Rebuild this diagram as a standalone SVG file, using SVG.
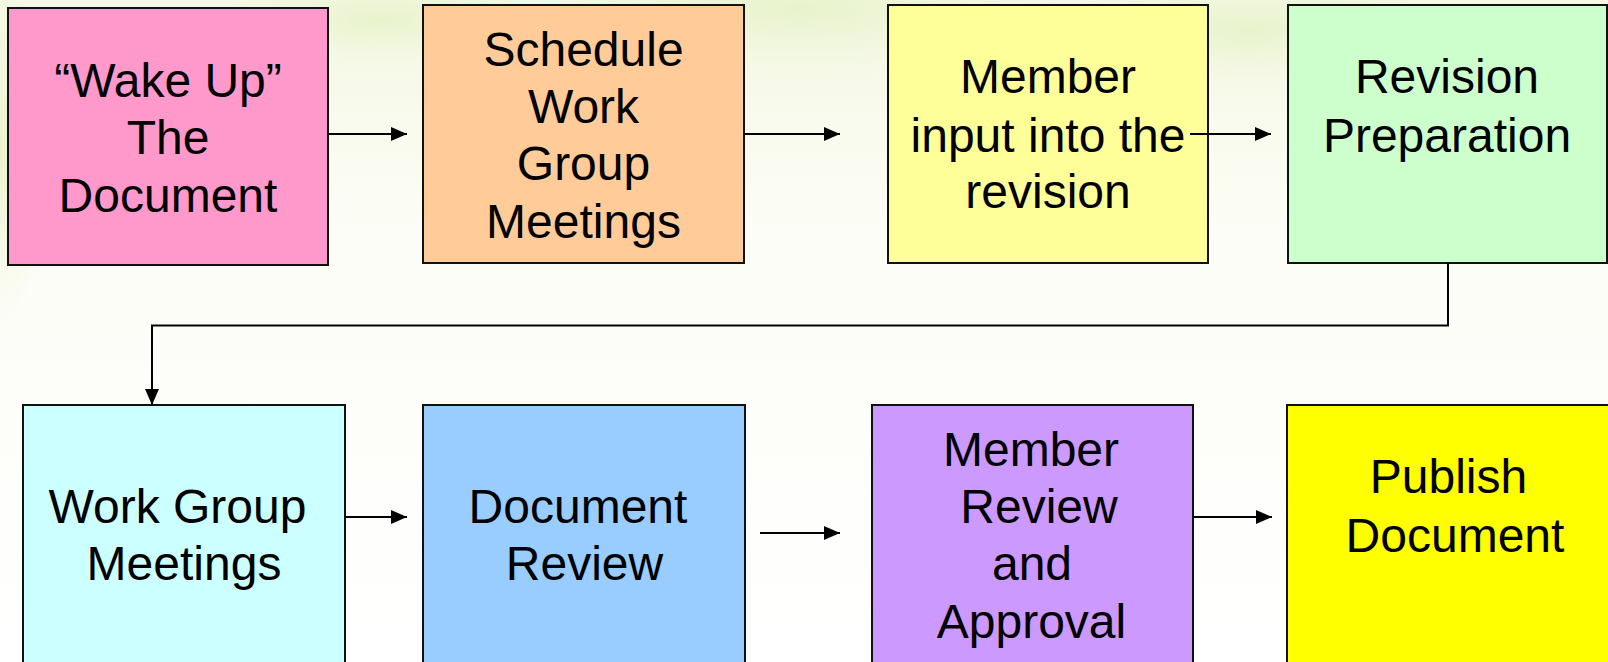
<svg xmlns="http://www.w3.org/2000/svg" width="1608" height="662" viewBox="0 0 1608 662">
<defs>
<radialGradient id="g1" cx="0.5" cy="0.5" r="0.5">
<stop offset="0" stop-color="#e6f2c8" stop-opacity="0.9"/>
<stop offset="1" stop-color="#eef6d8" stop-opacity="0"/>
</radialGradient>
<linearGradient id="bg" x1="0" y1="0" x2="0" y2="1">
<stop offset="0" stop-color="#f4f8e4"/>
<stop offset="0.35" stop-color="#fcfdf6"/>
<stop offset="1" stop-color="#ffffff"/>
</linearGradient>
<marker id="ah" markerUnits="userSpaceOnUse" markerWidth="16" markerHeight="14" refX="16" refY="7" orient="auto">
<path d="M0,0 L16,7 L0,14 Z" fill="#000"/>
</marker>
<style>
.box{stroke:#111;stroke-width:2}
.t{font-family:"Liberation Sans",Arial,sans-serif;font-size:48px;fill:#000;text-anchor:middle}
.c{fill:none;stroke:#000;stroke-width:2}
</style>
</defs>
<rect x="0" y="0" width="1608" height="662" fill="url(#bg)"/>
<ellipse cx="800" cy="10" rx="260" ry="70" fill="url(#g1)"/>
<ellipse cx="1250" cy="30" rx="200" ry="60" fill="url(#g1)"/>
<ellipse cx="0" cy="150" rx="50" ry="180" fill="url(#g1)"/>
<ellipse cx="380" cy="20" rx="160" ry="50" fill="url(#g1)"/>

<g id="n1">
<rect class="box" x="8" y="8" width="320" height="257" fill="#FF99CC"/>
<text class="t" x="168" y="96.7">“Wake Up”</text>
<text class="t" x="168" y="154">The</text>
<text class="t" x="168" y="212">Document</text>
</g>
<g id="n2">
<rect class="box" x="423" y="5" width="321" height="258" fill="#FFCC99"/>
<text class="t" x="583.5" y="65.7">Schedule</text>
<text class="t" x="583.5" y="122.5">Work</text>
<text class="t" x="583.5" y="180">Group</text>
<text class="t" x="583.5" y="238">Meetings</text>
</g>
<g id="n3">
<rect class="box" x="888" y="5" width="320" height="258" fill="#FFFF99"/>
<text class="t" x="1048" y="93.3">Member</text>
<text class="t" x="1048" y="151.5">input into the</text>
<text class="t" x="1048" y="208">revision</text>
</g>
<g id="n4">
<rect class="box" x="1288" y="5" width="319" height="258" fill="#CCFFCC"/>
<text class="t" x="1447" y="93.3">Revision</text>
<text class="t" x="1447" y="151.5">Preparation</text>
</g>
<g id="n5">
<rect class="box" x="23" y="405" width="322" height="260" fill="#CCFFFF"/>
<text class="t" x="177.5" y="522.7">Work Group</text>
<text class="t" x="184" y="580">Meetings</text>
</g>
<g id="n6">
<rect class="box" x="423" y="405" width="322" height="260" fill="#99CCFF"/>
<text class="t" x="578" y="522.7">Document</text>
<text class="t" x="584.5" y="580">Review</text>
</g>
<g id="n7">
<rect class="box" x="872" y="405" width="321" height="260" fill="#CC99FF"/>
<text class="t" x="1031" y="466">Member</text>
<text class="t" x="1039" y="522.7">Review</text>
<text class="t" x="1032" y="580">and</text>
<text class="t" x="1031.5" y="638">Approval</text>
</g>
<g id="n8">
<rect class="box" x="1287" y="405" width="322" height="260" fill="#FFFF00"/>
<text class="t" x="1448.5" y="493.3">Publish</text>
<text class="t" x="1455" y="551.7">Document</text>
</g>

<g id="connectors">
<line class="c" x1="328" y1="134" x2="407" y2="134" marker-end="url(#ah)"/>
<line class="c" x1="744" y1="134" x2="840" y2="134" marker-end="url(#ah)"/>
<line class="c" x1="1190" y1="134" x2="1271" y2="134" marker-end="url(#ah)"/>
<polyline class="c" points="1448,263 1448,325.5 152,325.5 152,405" marker-end="url(#ah)"/>
<line class="c" x1="345" y1="517" x2="407" y2="517" marker-end="url(#ah)"/>
<line class="c" x1="760" y1="533" x2="840" y2="533" marker-end="url(#ah)"/>
<line class="c" x1="1193" y1="517" x2="1272" y2="517" marker-end="url(#ah)"/>
</g>
</svg>
